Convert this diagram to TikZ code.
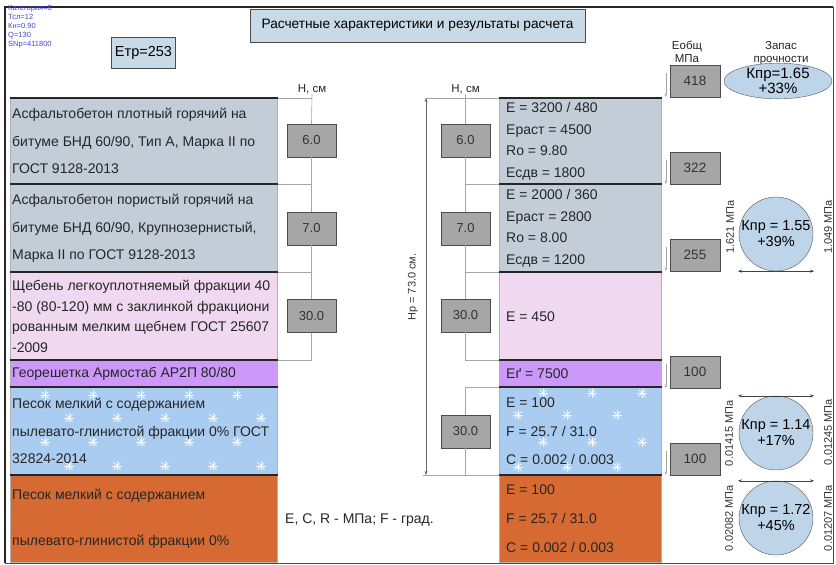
\documentclass[tikz,border=0pt]{standalone}
\usepackage{fontspec}
\setmainfont{Liberation Sans}
\usetikzlibrary{arrows.meta,shapes.geometric}
\definecolor{asphalt}{RGB}{195,205,215}
\definecolor{gravel}{RGB}{240,216,240}
\definecolor{geogrid}{RGB}{204,153,250}
\definecolor{sand}{RGB}{170,204,240}
\definecolor{clay}{RGB}{214,106,50}
\definecolor{boxgray}{RGB}{166,166,166}
\definecolor{capblue}{RGB}{200,218,232}
\definecolor{kblue}{RGB}{190,212,232}
\definecolor{infoblue}{RGB}{70,70,210}
\begin{document}
\begin{tikzpicture}[x=1pt,y=-1pt,
  layer/.style={draw=gray!60, line width=0.6pt, inner sep=0pt, anchor=north west},
  iface/.style={line width=1.4pt, black!85},
  ltext/.style={anchor=west, align=left, inner sep=0pt, text=black!85},
  hbox/.style={draw=gray!60!black, fill=boxgray, minimum width=49pt, minimum height=33pt, inner sep=0pt, font=\fontsize{13}{15}\selectfont, text=black!80},
  ebox/.style={hbox, minimum width=50pt, minimum height=32pt, font=\fontsize{13.5}{15}\selectfont},
  bracket/.style={draw=gray!70, line width=0.6pt},
  kcirc/.style={circle, draw=gray!70!black, fill=kblue, minimum size=74pt, inner sep=0pt, align=center, font=\fontsize{14.5}{16}\selectfont},
  mpa/.style={rotate=90, inner sep=0pt, font=\fontsize{11}{12}\selectfont, text=black!80},
  dimarrow/.style={{Stealth[length=4pt,width=3pt]}-{Stealth[length=4pt,width=3pt]}, line width=0.5pt, black!75},
  pointer/.style={-{Stealth[length=4pt,width=2.5pt]}, line width=0.5pt, gray!70},
  flake/.style={white, opacity=0.85, line width=1pt, line cap=round},
  head/.style={inner sep=0pt, align=center, font=\fontsize{11.5}{12.5}\selectfont, text=black!85}
]
\useasboundingbox (0,0) rectangle (836,565);
\fill[white] (0,0) rectangle (836,565);
% frame
\draw[line width=0.6pt, black!70] (5,7) rectangle (833,563);
\draw[line width=1.4pt, black!85] (5,563) -- (5,7) -- (833,7);

\node[anchor=north west, align=left, inner sep=0pt, text=infoblue, font=\fontsize{7.5}{9}\selectfont] (info) at (8,5) {Категория=8\\Тсл=12\\Кн=0.90\\Q=130\\SNp=411800};
\node[draw=gray!60!black, fill=capblue, minimum width=63pt, minimum height=31pt, font=\fontsize{14.5}{16}\selectfont] (etr) at (143.5,52.5) {Етр=253};
\node[draw=gray!60!black, fill=capblue, minimum width=335pt, minimum height=33pt, font=\fontsize{13.7}{15}\selectfont] (title) at (417.5,25.5) {Расчетные характеристики и результаты расчета};

% headers
\node[head] (hl) at (312,89) {Н, см};
\node[head] (hr) at (465.5,89) {Н, см};
\node[head] (eh) at (687,52) {Еобщ\\МПа};
\node[head] (zh) at (781,53) {Запас\\прочности};

% layers
\foreach \n/\t/\h/\c in {1/98/86/asphalt, 2/184/88/asphalt, 3/272/88/gravel, 4/360/27/geogrid, 5/387/88/sand, 6/475/87/clay} {
  \node[layer, fill=\c, minimum width=267, minimum height=\h] (L\n) at (10,\t) {};
  \node[layer, fill=\c, minimum width=162, minimum height=\h] (R\n) at (499,\t) {};
}

% snowflakes
\foreach \fx/\fy in {45/395,93/395,141/395,189/395,237/395,69/418,117/418,165/418,213/418,261/418,
                     45/442,93/442,141/442,189/442,237/442,69/466,117/466,165/466,213/466,261/466,
                     543/393,592/393,642/393,518/415,567/415,617/415,543/442,592/442,642/442,518/467,567/467,617/467} {
  \foreach \a in {0,45,90,135}
    \draw[flake] (\fx,\fy) ++(\a:4.5) -- ++(\a:-9);
}

\foreach \n in {1,...,6} {
  \draw[iface] (L\n.north west) -- (L\n.north east);
  \draw[iface] (R\n.north west) -- (R\n.north east);
}

% layer texts
\node[ltext, font=\fontsize{14}{27.5}\selectfont] (t1) at ([xshift=2pt]L1.west) {Асфальтобетон плотный горячий на\\битуме БНД 60/90, Тип А, Марка II по\\ГОСТ 9128-2013};
\node[ltext, font=\fontsize{14}{27.5}\selectfont] (t2) at ([xshift=2pt]L2.west) {Асфальтобетон пористый горячий на\\битуме БНД 60/90, Крупнозернистый,\\Марка II по ГОСТ 9128-2013};
\node[ltext, font=\fontsize{14}{20.7}\selectfont] (t3) at ([xshift=2pt]L3.west) {Щебень легкоуплотняемый фракции 40\\-80 (80-120) мм с заклинкой фракциони\\рованным мелким щебнем ГОСТ 25607\\-2009};
\node[ltext, font=\fontsize{14}{16}\selectfont] (t4) at ([xshift=2pt]L4.west) {Георешетка Армостаб АР2П 80/80};
\node[ltext, font=\fontsize{14}{27.5}\selectfont] (t5) at ([xshift=2pt]L5.west) {Песок мелкий с содержанием\\пылевато-глинистой фракции 0\% ГОСТ\\32824-2014};
\node[ltext, font=\fontsize{14}{46}\selectfont] (t6) at ([xshift=2pt]L6.west) {Песок мелкий с содержанием\\пылевато-глинистой фракции 0\%};
\node[ltext, font=\fontsize{14}{16}\selectfont] (units) at (285,520) {E, C, R - МПа; F - град.};

\node[ltext, font=\fontsize{14}{21.7}\selectfont] (r1) at ([xshift=7pt]R1.west) {E = 3200 / 480\\Ераст = 4500\\Ro = 9.80\\Есдв = 1800};
\node[ltext, font=\fontsize{14}{21.7}\selectfont] (r2) at ([xshift=7pt]R2.west) {E = 2000 / 360\\Ераст = 2800\\Ro = 8.00\\Есдв = 1200};
\node[ltext, font=\fontsize{14}{16}\selectfont] (r3) at ([xshift=7pt]R3.west) {E = 450};
\node[ltext, font=\fontsize{14}{16}\selectfont] (r4) at ([xshift=7pt]R4.west) {Eґ = 7500};
\node[ltext, font=\fontsize{14}{28.5}\selectfont] (r5) at ([xshift=7pt]R5.west) {E = 100\\F = 25.7 / 31.0\\C = 0.002 / 0.003};
\node[ltext, font=\fontsize{14}{29}\selectfont] (r6) at ([xshift=7pt]R6.west) {E = 100\\F = 25.7 / 31.0\\C = 0.002 / 0.003};

% thickness boxes
\node[hbox] (h1l) at (311.5,140.5) {6.0};
\node[hbox] (h2l) at (311.5,228.5) {7.0};
\node[hbox] (h3l) at (311.5,316) {30.0};
\node[hbox] (h1r) at (465.5,140.5) {6.0};
\node[hbox] (h2r) at (465.5,228.5) {7.0};
\node[hbox] (h3r) at (465.5,315.5) {30.0};
\node[hbox] (h5r) at (465.5,431.5) {30.0};

\draw[bracket] (hl.south) -- (h1l.north);
\draw[bracket] (L1.north east) -- (L1.north east -| h1l);
\draw[bracket] (h1l.south) -- (h2l.north);
\draw[bracket] (h2l.south) -- (h3l.north);
\draw[bracket] (h3l.south) |- (L3.south east);
\foreach \n in {1,2}
  \draw[bracket] (L\n.south east) -- (L\n.south east -| h1l);

\coordinate (hpt) at (426,98);
\coordinate (hpb) at (426,475);
\draw[bracket] (R1.north west) -- (hpt);
\draw[bracket] (R6.north west) -- ([xshift=-3pt]hpb);
\draw[dimarrow, gray!80!black] (hpt) -- (hpb);
\node[mpa] (hp) at (413,287) {Нр = 73.0 см.};
\draw[bracket] (hr.south) -- (h1r.north);
\draw[bracket] (h1r.south) -- (h2r.north);
\draw[bracket] (h2r.south) -- (h3r.north);
\draw[bracket] (h3r.south) |- (R3.south west);
\foreach \n in {1,2}
  \draw[bracket] (R\n.south west) -- (R\n.south west -| h1r);
\draw[bracket] (R5.north west) -| (h5r.north);
\draw[bracket] (h5r.south) |- (R5.south west);

% total moduli
\foreach \i/\y/\v in {1/81/418, 2/168/322, 3/255/255, 4/372/100, 5/459/100} {
  \node[ebox] (e\i) at (695,\y) {\v};
  \draw[pointer] ([shift={(-4,8)}]e\i.north west) -- ([xshift=-4pt]e\i.south west);
}

% strength reserve
\node[kcirc, ellipse, minimum width=108pt, minimum height=32pt, font=\fontsize{15}{11}\selectfont] (k0) at (778,81) {Кпр=1.65\\+33\%};
\node[kcirc] (k1) at (776,234) {Кпр = 1.55\\+39\%};
\node[kcirc] (k2) at (776,433) {Кпр = 1.14\\+17\%};
\node[kcirc] (k3) at (776,518) {Кпр = 1.72\\+45\%};
\node[mpa] (k1l) at (730,227) {1.621 МПа};
\node[mpa] (k1r) at (828,227) {1.049 МПа};
\node[mpa] (k2l) at (729,433) {0.01415 МПа};
\node[mpa] (k2r) at (828,432) {0.01245 МПа};
\node[mpa] (k3l) at (729,518) {0.02082 МПа};
\node[mpa] (k3r) at (828,518) {0.01207 МПа};
\draw[dimarrow] ([xshift=-38pt]k1.south) -- ([xshift=38pt]k1.south);
\draw[dimarrow] ([xshift=-38pt]k2.north) -- ([xshift=38pt]k2.north);
\draw[dimarrow] ([xshift=-38pt]k3.north) -- ([xshift=38pt]k3.north);
\end{tikzpicture}
\end{document}
